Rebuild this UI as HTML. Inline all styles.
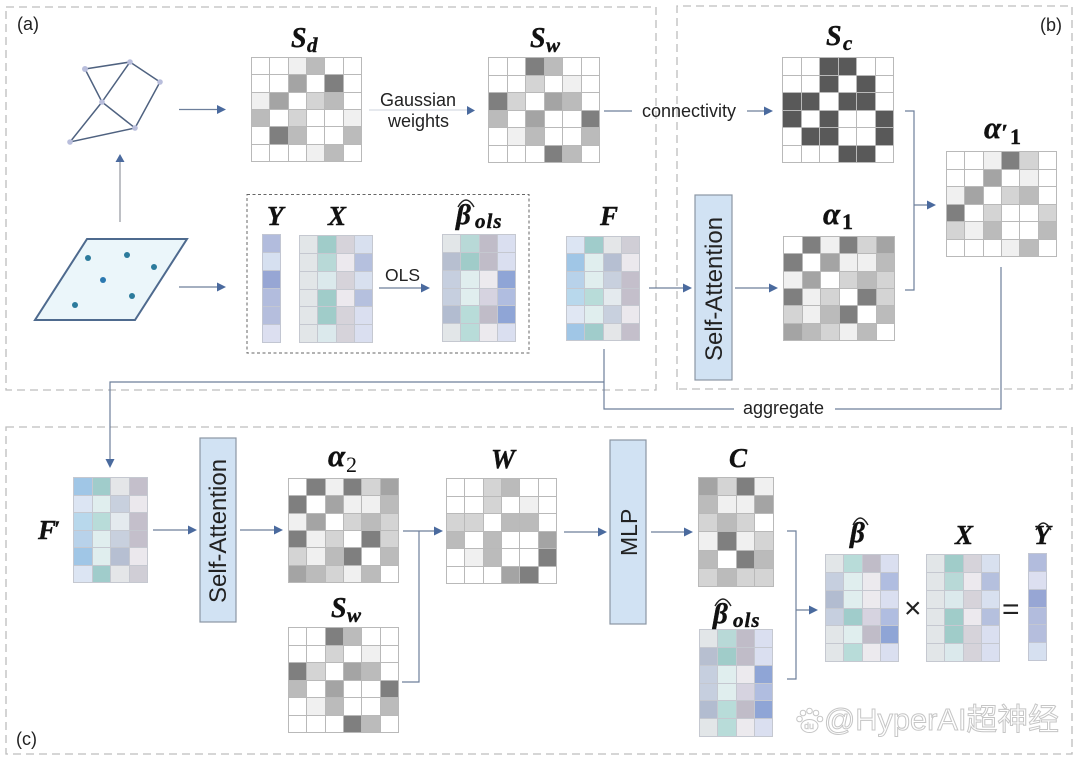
<!DOCTYPE html>
<html><head><meta charset="utf-8"><style>
html,body{margin:0;padding:0;background:#fff}
#p{position:relative;width:1080px;height:760px;overflow:hidden;background:#fff}
.m{position:absolute;box-sizing:border-box;display:grid;grid-template-columns:repeat(6,1fr);grid-template-rows:repeat(6,1fr);gap:1px;padding:1px;background:#b9b9b9}
.k{grid-template-columns:repeat(4,1fr);background:#c5c8d0}
.y{grid-template-columns:1fr;background:#c2c6d2}
.m i{display:block}
.w{background:#fff}.l{background:#f0f0f0}.c{background:#d4d4d4}.d{background:#bbb}.e{background:#a4a4a4}.f{background:#7f7f7f}.g{background:#595959}
svg{position:absolute;left:0;top:0}
.s{font-family:"Liberation Sans",sans-serif;fill:#222}
.t{font-family:"Liberation Serif",serif;font-weight:bold;font-style:italic;fill:#111;stroke:#111;stroke-width:.4}
.ln{stroke:#6d7f9b;stroke-width:1.2;fill:none}
.pn{stroke:#bdbdbd;stroke-width:1.3;stroke-dasharray:8 5;fill:none}
.h{fill:#4a6a9e}
.bx{fill:#d1e2f3;stroke:#8b96a3;stroke-width:1.2}
.hat{fill:none;stroke:#222;stroke-width:1.4}
</style></head><body><div id="p">

<div class="m" style="left:251px;top:57px;width:111px;height:105px"><i class=w></i><i class=w></i><i class=l></i><i class=d></i><i class=w></i><i class=w></i><i class=w></i><i class=w></i><i class=e></i><i class=w></i><i class=f></i><i class=w></i><i class=l></i><i class=e></i><i class=w></i><i class=c></i><i class=d></i><i class=w></i><i class=d></i><i class=w></i><i class=c></i><i class=w></i><i class=w></i><i class=l></i><i class=w></i><i class=f></i><i class=d></i><i class=w></i><i class=w></i><i class=d></i><i class=w></i><i class=w></i><i class=w></i><i class=l></i><i class=d></i><i class=w></i></div>

<div class="m" style="left:488px;top:57px;width:112px;height:106px"><i class=w></i><i class=w></i><i class=f></i><i class=d></i><i class=w></i><i class=w></i><i class=w></i><i class=w></i><i class=c></i><i class=w></i><i class=l></i><i class=w></i><i class=f></i><i class=c></i><i class=w></i><i class=e></i><i class=d></i><i class=w></i><i class=d></i><i class=w></i><i class=e></i><i class=w></i><i class=w></i><i class=f></i><i class=w></i><i class=l></i><i class=d></i><i class=w></i><i class=w></i><i class=d></i><i class=w></i><i class=w></i><i class=w></i><i class=f></i><i class=d></i><i class=w></i></div>

<div class="m" style="left:782px;top:57px;width:112px;height:106px"><i class=w></i><i class=w></i><i class=g></i><i class=g></i><i class=w></i><i class=w></i><i class=w></i><i class=w></i><i class=g></i><i class=w></i><i class=g></i><i class=w></i><i class=g></i><i class=g></i><i class=w></i><i class=g></i><i class=g></i><i class=w></i><i class=g></i><i class=w></i><i class=g></i><i class=w></i><i class=w></i><i class=g></i><i class=w></i><i class=g></i><i class=g></i><i class=w></i><i class=w></i><i class=g></i><i class=w></i><i class=w></i><i class=w></i><i class=g></i><i class=g></i><i class=w></i></div>

<div class="m" style="left:946px;top:151px;width:111px;height:106px"><i class=w></i><i class=w></i><i class=l></i><i class=f></i><i class=c></i><i class=w></i><i class=w></i><i class=w></i><i class=e></i><i class=w></i><i class=l></i><i class=w></i><i class=l></i><i class=e></i><i class=w></i><i class=c></i><i class=d></i><i class=w></i><i class=f></i><i class=w></i><i class=c></i><i class=w></i><i class=w></i><i class=c></i><i class=c></i><i class=l></i><i class=d></i><i class=w></i><i class=w></i><i class=d></i><i class=w></i><i class=w></i><i class=w></i><i class=l></i><i class=d></i><i class=w></i></div>

<div class="m" style="left:783px;top:236px;width:112px;height:105px"><i class=w></i><i class=f></i><i class=l></i><i class=f></i><i class=c></i><i class=e></i><i class=f></i><i class=w></i><i class=e></i><i class=l></i><i class=l></i><i class=d></i><i class=l></i><i class=e></i><i class=w></i><i class=c></i><i class=d></i><i class=c></i><i class=f></i><i class=l></i><i class=c></i><i class=w></i><i class=f></i><i class=c></i><i class=c></i><i class=l></i><i class=d></i><i class=f></i><i class=w></i><i class=d></i><i class=e></i><i class=d></i><i class=c></i><i class=l></i><i class=d></i><i class=w></i></div>

<div class="m y" style="left:262px;top:234px;width:19px;height:109px"><i style=background:#b2bcdd></i><i style=background:#d6e0f0></i><i style=background:#97a6d4></i><i style=background:#b2bcdd></i><i style=background:#b5bedd></i><i style=background:#dcdff0></i></div>

<div class="m k" style="left:299px;top:235px;width:74px;height:108px"><i style=background:#e2e6e8></i><i style=background:#a0ccc9></i><i style=background:#d6d3da></i><i style=background:#d8e0ef></i><i style=background:#e2e6e8></i><i style=background:#b8d9d7></i><i style=background:#ece9ee></i><i style=background:#b5c0de></i><i style=background:#e2e6e8></i><i style=background:#dbe9ec></i><i style=background:#d6d3da></i><i style=background:#d8e0ef></i><i style=background:#e2e6e8></i><i style=background:#a0ccc9></i><i style=background:#ece9ee></i><i style=background:#b5c0de></i><i style=background:#e2e6e8></i><i style=background:#a0ccc9></i><i style=background:#d6d3da></i><i style=background:#dadff0></i><i style=background:#e2e6e8></i><i style=background:#dbe9ec></i><i style=background:#d6d3da></i><i style=background:#dadff0></i></div>

<div class="m k" style="left:442px;top:234px;width:74px;height:108px"><i style=background:#e2e6e8></i><i style=background:#b8d9d7></i><i style=background:#c0bcc8></i><i style=background:#dadff0></i><i style=background:#b7bfd0></i><i style=background:#a0ccc9></i><i style=background:#c0bcc8></i><i style=background:#dadff0></i><i style=background:#c6cfdf></i><i style=background:#e0eeee></i><i style=background:#eceaee></i><i style=background:#8fa5d6></i><i style=background:#c6cfdf></i><i style=background:#e0eeee></i><i style=background:#d6d3e0></i><i style=background:#b0bde0></i><i style=background:#b2bcd0></i><i style=background:#b8dcd9></i><i style=background:#c0bcc8></i><i style=background:#8fa5d6></i><i style=background:#e2e6e8></i><i style=background:#b8dcd9></i><i style=background:#eceaee></i><i style=background:#dadff0></i></div>

<div class="m k" style="left:566px;top:236px;width:74px;height:105px"><i style=background:#dce5f3></i><i style=background:#a0cccb></i><i style=background:#e4e6e8></i><i style=background:#d0ced6></i><i style=background:#a0c6e6></i><i style=background:#e0eeee></i><i style=background:#b6bfd2></i><i style=background:#ebe8ed></i><i style=background:#b8d2ea></i><i style=background:#e0eeee></i><i style=background:#c8d0de></i><i style=background:#c4bfcb></i><i style=background:#b8d8ec></i><i style=background:#b8dcd9></i><i style=background:#e4eaee></i><i style=background:#c4bfcb></i><i style=background:#e0e7f3></i><i style=background:#e0eeee></i><i style=background:#c8d0de></i><i style=background:#ebe8ed></i><i style=background:#a0c6e6></i><i style=background:#a0cccb></i><i style=background:#e4e6e8></i><i style=background:#c4bfcb></i></div>

<div class="m k" style="left:73px;top:477px;width:75px;height:106px"><i style=background:#a0c6e6></i><i style=background:#a0cccb></i><i style=background:#e4e6e8></i><i style=background:#c4bfcb></i><i style=background:#dce5f3></i><i style=background:#e0eeee></i><i style=background:#c8d0de></i><i style=background:#ebe8ed></i><i style=background:#b8d8ec></i><i style=background:#b8dcd9></i><i style=background:#e4eaee></i><i style=background:#c4bfcb></i><i style=background:#b8d2ea></i><i style=background:#e0eeee></i><i style=background:#c8d0de></i><i style=background:#c4bfcb></i><i style=background:#a0c6e6></i><i style=background:#e0eeee></i><i style=background:#b6bfd2></i><i style=background:#ebe8ed></i><i style=background:#dce5f3></i><i style=background:#a0cccb></i><i style=background:#e4e6e8></i><i style=background:#d0ced6></i></div>

<div class="m" style="left:288px;top:478px;width:111px;height:105px"><i class=w></i><i class=f></i><i class=l></i><i class=f></i><i class=c></i><i class=e></i><i class=f></i><i class=w></i><i class=e></i><i class=l></i><i class=l></i><i class=d></i><i class=l></i><i class=e></i><i class=w></i><i class=c></i><i class=d></i><i class=c></i><i class=f></i><i class=l></i><i class=c></i><i class=w></i><i class=f></i><i class=c></i><i class=c></i><i class=l></i><i class=d></i><i class=f></i><i class=w></i><i class=d></i><i class=e></i><i class=d></i><i class=c></i><i class=l></i><i class=d></i><i class=w></i></div>

<div class="m" style="left:288px;top:627px;width:111px;height:106px"><i class=w></i><i class=w></i><i class=f></i><i class=d></i><i class=w></i><i class=w></i><i class=w></i><i class=w></i><i class=c></i><i class=w></i><i class=l></i><i class=w></i><i class=f></i><i class=c></i><i class=w></i><i class=e></i><i class=d></i><i class=w></i><i class=d></i><i class=w></i><i class=e></i><i class=w></i><i class=w></i><i class=f></i><i class=w></i><i class=l></i><i class=d></i><i class=w></i><i class=w></i><i class=d></i><i class=w></i><i class=w></i><i class=w></i><i class=f></i><i class=d></i><i class=w></i></div>

<div class="m" style="left:446px;top:478px;width:111px;height:106px"><i class=w></i><i class=w></i><i class=c></i><i class=d></i><i class=w></i><i class=w></i><i class=w></i><i class=w></i><i class=c></i><i class=w></i><i class=l></i><i class=w></i><i class=c></i><i class=c></i><i class=w></i><i class=d></i><i class=d></i><i class=w></i><i class=d></i><i class=w></i><i class=d></i><i class=w></i><i class=w></i><i class=e></i><i class=w></i><i class=l></i><i class=d></i><i class=w></i><i class=w></i><i class=f></i><i class=w></i><i class=w></i><i class=w></i><i class=e></i><i class=f></i><i class=w></i></div>

<div class="m k" style="left:698px;top:477px;width:76px;height:110px;background:#b9b9b9"><i class=e></i><i class=c></i><i class=f></i><i class=l></i><i class=d></i><i class=l></i><i class=l></i><i class=e></i><i class=c></i><i class=d></i><i class=c></i><i class=w></i><i class=l></i><i class=f></i><i class=l></i><i class=c></i><i class=d></i><i class=w></i><i class=f></i><i class=d></i><i class=c></i><i class=d></i><i class=c></i><i class=c></i></div>

<div class="m k" style="left:699px;top:629px;width:74px;height:108px"><i style=background:#e2e6e8></i><i style=background:#b8d9d7></i><i style=background:#c0bcc8></i><i style=background:#dadff0></i><i style=background:#b7bfd0></i><i style=background:#a0ccc9></i><i style=background:#c0bcc8></i><i style=background:#dadff0></i><i style=background:#c6cfdf></i><i style=background:#e0eeee></i><i style=background:#eceaee></i><i style=background:#8fa5d6></i><i style=background:#c6cfdf></i><i style=background:#e0eeee></i><i style=background:#d6d3e0></i><i style=background:#b0bde0></i><i style=background:#b2bcd0></i><i style=background:#b8dcd9></i><i style=background:#c0bcc8></i><i style=background:#8fa5d6></i><i style=background:#e2e6e8></i><i style=background:#b8dcd9></i><i style=background:#eceaee></i><i style=background:#dadff0></i></div>

<div class="m k" style="left:825px;top:554px;width:74px;height:108px"><i style=background:#e2e6e8></i><i style=background:#b8dcd9></i><i style=background:#c0bcc8></i><i style=background:#dadff0></i><i style=background:#c6cfdf></i><i style=background:#e0eeee></i><i style=background:#eceaee></i><i style=background:#b0bde0></i><i style=background:#b2bcd0></i><i style=background:#e0eeee></i><i style=background:#eceaee></i><i style=background:#dadff0></i><i style=background:#c6cfdf></i><i style=background:#a0cccb></i><i style=background:#d6d3e0></i><i style=background:#b0bde0></i><i style=background:#e2e6e8></i><i style=background:#e0eeee></i><i style=background:#c0bcc8></i><i style=background:#8fa5d6></i><i style=background:#e2e6e8></i><i style=background:#b8dcd9></i><i style=background:#eceaee></i><i style=background:#dadff0></i></div>

<div class="m k" style="left:926px;top:554px;width:74px;height:108px"><i style=background:#e2e6e8></i><i style=background:#a0ccc9></i><i style=background:#d6d3da></i><i style=background:#d8e0ef></i><i style=background:#e2e6e8></i><i style=background:#b8d9d7></i><i style=background:#ece9ee></i><i style=background:#b5c0de></i><i style=background:#e2e6e8></i><i style=background:#dbe9ec></i><i style=background:#d6d3da></i><i style=background:#d8e0ef></i><i style=background:#e2e6e8></i><i style=background:#a0ccc9></i><i style=background:#ece9ee></i><i style=background:#b5c0de></i><i style=background:#e2e6e8></i><i style=background:#a0ccc9></i><i style=background:#d6d3da></i><i style=background:#dadff0></i><i style=background:#e2e6e8></i><i style=background:#dbe9ec></i><i style=background:#d6d3da></i><i style=background:#dadff0></i></div>

<div class="m y" style="left:1028px;top:553px;width:19px;height:108px"><i style=background:#b2bcdd></i><i style=background:#dcdff0></i><i style=background:#97a6d4></i><i style=background:#b2bcdd></i><i style=background:#b5bedd></i><i style=background:#d6e0f0></i></div>

<svg width="1080" height="760" viewBox="0 0 1080 760">
<!-- panels -->
<path class="pn" d="M6 7H656V390H6Z"/>
<path class="pn" d="M677 390V6H1072V389H677"/>
<path class="pn" d="M6 427H1072V754H6Z"/>
<rect x="247" y="194.500" width="282" height="158.500" fill="none" stroke="#666" stroke-width="1" stroke-dasharray="3 2.500"/>

<!-- graph -->
<g stroke="#4f6280" stroke-width="1.500" fill="none"><path d="M85 69L130 62L160 82L135 128L70 142L102 102L85 69M130 62L102 102L135 128"/></g>
<g fill="#b9bedc"><circle cx="85" cy="69" r="3"/><circle cx="130" cy="62" r="2.800"/><circle cx="160" cy="82" r="2.800"/><circle cx="102" cy="102" r="2.800"/><circle cx="135" cy="128" r="2.800"/><circle cx="70" cy="142" r="2.800"/></g>

<!-- plane -->
<path d="M87 239H187L135 320H35Z" fill="#ebf6fa" stroke="#4e6a8e" stroke-width="2"/>
<g fill="#2c7b9c"><circle cx="88" cy="258" r="3"/><circle cx="127" cy="255" r="3"/><circle cx="154" cy="267" r="3"/><circle cx="103" cy="280" r="3" fill="#2a78b0"/><circle cx="132" cy="296" r="3"/><circle cx="75" cy="305" r="3"/></g>

<!-- connectors -->
<path class="ln" d="M179 109.500H220"/><path class="h" d="M217 105L226 109.500L217 114Z"/>
<path d="M120 222V160" stroke="#9a9ea6" stroke-width="1.300" fill="none"/><path class="h" d="M115.500 162L120 154L124.500 162Z"/>
<path class="ln" d="M179 287H220"/><path class="h" d="M217 282.500L226 287L217 291.500Z"/>
<path d="M369 110H468" stroke="#cdd3dc" stroke-width="1" fill="none"/><path class="h" d="M467 106L475 110.500L467 115Z"/>
<path class="ln" d="M604 111H632M747 111H768"/><path class="h" d="M764 106.500L773 111L764 115.500Z"/>
<path class="ln" d="M379 288H424"/><path class="h" d="M421 283.500L430 288L421 292.500Z"/>
<path class="ln" d="M649 288H686"/><path class="h" d="M683 283.500L692 288L683 292.500Z"/>
<path class="ln" d="M735 288H772"/><path class="h" d="M769 283.500L778 288L769 292.500Z"/>
<path class="ln" d="M905 111H914V290H905M914 205H930"/><path class="h" d="M927 200.500L936 205L927 209.500Z"/>
<path class="ln" d="M604 349V409H734M835 409H1001V267"/>
<path class="ln" d="M604 382H110V460"/><path class="h" d="M105.500 459L110 468L114.500 459Z"/>
<path class="ln" d="M153 530H192"/><path class="h" d="M188 525.500L197 530L188 534.500Z"/>
<path class="ln" d="M240 530H278"/><path class="h" d="M274 525.500L283 530L274 534.500Z"/>
<path class="ln" d="M403 531H438M419 531V682H402"/><path class="h" d="M434 526.500L443 531L434 535.500Z"/>
<path class="ln" d="M564 532H602"/><path class="h" d="M598 527.500L607 532L598 536.500Z"/>
<path class="ln" d="M651 532H688"/><path class="h" d="M684 527.500L693 532L684 536.500Z"/>
<path class="ln" d="M787 531H796V679H787M796 610H813"/><path class="h" d="M809 605.500L818 610L809 614.500Z"/>

<!-- boxes -->
<rect class="bx" x="695" y="195" width="37" height="185"/>
<rect class="bx" x="200" y="438" width="36" height="184"/>
<rect class="bx" x="610" y="440" width="36" height="184"/>
<text class="s" font-size="24" transform="translate(722 361) rotate(-90)">Self-Attention</text>
<text class="s" font-size="24" transform="translate(226 603) rotate(-90)">Self-Attention</text>
<text class="s" font-size="23" transform="translate(637 556) rotate(-90)">MLP</text>

<!-- labels -->
<text class="s" font-size="18" x="17" y="30">(a)</text>
<text class="s" font-size="18" x="1040" y="31">(b)</text>
<text class="s" font-size="18" x="16" y="745">(c)</text>
<text class="s" font-size="18" x="380" y="106">Gaussian</text>
<text class="s" font-size="18" x="388" y="127">weights</text>
<text class="s" font-size="18" x="642" y="117">connectivity</text>
<text class="s" font-size="17.500" x="385" y="281">OLS</text>
<text class="s" font-size="18" x="743" y="414">aggregate</text>

<!-- titles -->
<text class="t" font-size="28" x="291" y="47">S</text><text class="t" font-size="21" x="307" y="52">d</text>
<text class="t" font-size="28" x="530" y="47">S</text><text class="t" font-size="21" x="546" y="52">w</text>
<text class="t" font-size="28" x="826" y="45">S</text><text class="t" font-size="21" x="843" y="50">c</text>
<text class="t" font-size="31" x="984" y="138">α</text><text class="t" font-size="24" x="1001" y="141">′</text><text class="t" font-size="22" x="1010" y="144" style="font-style:normal">1</text>
<text class="t" font-size="31" x="823" y="224">α</text><text class="t" font-size="22" x="842" y="229" style="font-style:normal">1</text>
<text class="t" font-size="27" x="267" y="225">Y</text>
<text class="t" font-size="27" x="328" y="225">X</text>
<text class="t" font-size="29" x="456" y="224">β</text><text class="t" font-size="21" x="475" y="228" letter-spacing="1">ols</text><path class="hat" d="M458 207Q466 193 474 207"/>
<text class="t" font-size="27" x="600" y="225">F</text>
<text class="t" font-size="27" x="38" y="539">F</text><text class="t" font-size="22" x="54" y="536">′</text>
<text class="t" font-size="31" x="328" y="466">α</text><text class="t" font-size="22" x="346" y="472" style="font-style:normal;stroke-width:0;font-weight:normal">2</text>
<text class="t" font-size="28" x="331" y="617">S</text><text class="t" font-size="21" x="347" y="622">w</text>
<text class="t" font-size="27" x="491" y="468">W</text>
<text class="t" font-size="27" x="729" y="467">C</text>
<text class="t" font-size="29" x="713" y="623">β</text><text class="t" font-size="21" x="733" y="627" letter-spacing="1">ols</text><path class="hat" d="M715 606Q723 592 731 606"/>
<text class="t" font-size="29" x="850" y="542">β</text><path class="hat" d="M853 525Q860 511 868 525"/>
<text class="t" font-size="27" x="955" y="544">X</text>
<text class="t" font-size="27" x="1034" y="544">Y</text><path class="hat" d="M1036 530Q1043 516 1051 530"/>

<text class="s" font-size="30" x="904" y="618" fill="#111">×</text>
<text class="s" font-size="30" x="1002" y="619" fill="#111">=</text>

<!-- watermark -->
<g fill="#fff" stroke="#c6c6c6" stroke-width="1">
<circle cx="803" cy="713" r="2.800"/><circle cx="809.500" cy="711" r="2.800"/><circle cx="816" cy="713" r="2.800"/><circle cx="799.500" cy="719" r="2.800"/><circle cx="820" cy="719" r="2.800"/><ellipse cx="809.500" cy="726" rx="8.500" ry="6.500"/>
<text x="804" y="729" font-family="Liberation Sans,sans-serif" font-size="9" stroke-width=".5">du</text>
<text x="824" y="730" font-family="'Liberation Sans','Noto Sans CJK SC',sans-serif" font-size="30.800">@HyperAI超神经</text>
</g>
</svg>
</div></body></html>
